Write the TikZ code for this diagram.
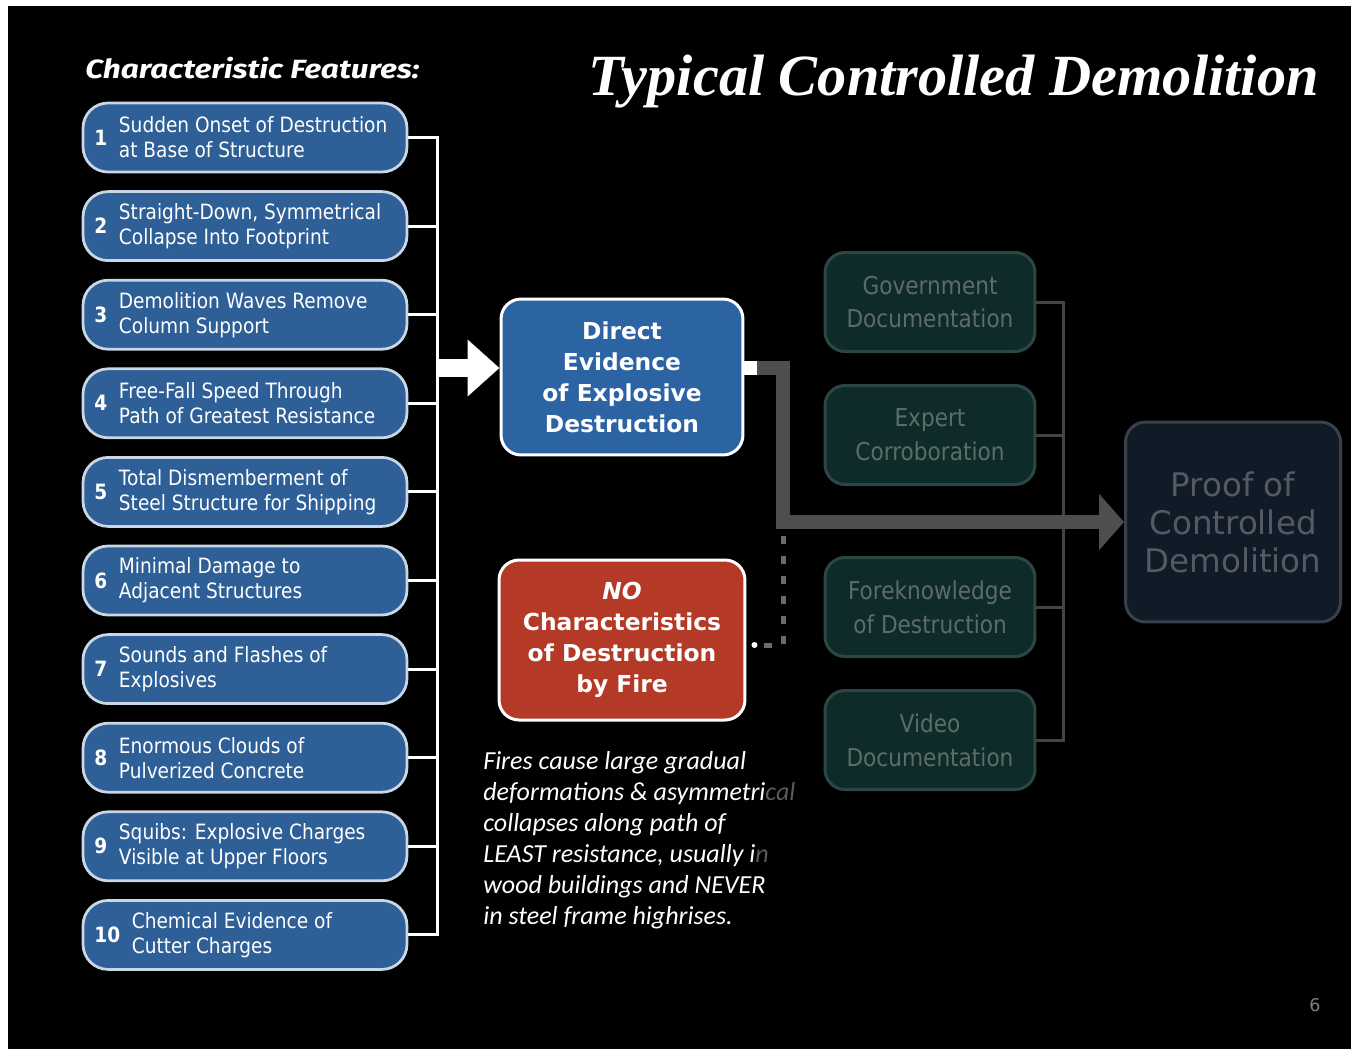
\documentclass[tikz,border=0pt]{standalone}
\usepackage{fontspec}
\usetikzlibrary{arrows.meta,positioning}
\setmainfont{DejaVu Sans}
\newfontfamily\boxfont[FakeStretch=0.88]{DejaVu Sans}
\newfontfamily\notefont{Carlito}
\newfontfamily\headfont[FakeStretch=1.2]{Fira Sans}
\newfontfamily\titlefont{Liberation Serif}

\definecolor{featblue}{HTML}{2E5F97}
\definecolor{featedge}{HTML}{C9D6E6}
\definecolor{directblue}{HTML}{2C63A2}
\definecolor{firered}{HTML}{B43A27}
\definecolor{supportfill}{HTML}{0E2B29}
\definecolor{supportedge}{HTML}{2C4743}
\definecolor{supporttext}{HTML}{5E6C69}
\definecolor{prooffill}{HTML}{111B28}
\definecolor{proofedge}{HTML}{394049}
\definecolor{prooftext}{HTML}{545A62}
\definecolor{pipegray}{HTML}{4E4E4E}
\definecolor{dashgray}{HTML}{6C6C6C}
\definecolor{busgray}{HTML}{444444}
\definecolor{fadegray}{HTML}{5A5A5A}

\tikzset{
  feature/.style={draw=featedge, line width=0.055cm, fill=featblue, rounded corners=0.5cm,
    minimum width=6.48cm, minimum height=1.38cm},
  featnum/.style={anchor=west, inner sep=0pt, text=white, font=\boxfont\bfseries\fontsize{12}{14}\selectfont},
  feattext/.style={inner sep=0pt, text=white, align=left, font=\boxfont\fontsize{12}{14.2}\selectfont},
  evidence/.style={draw=white, line width=0.06cm, rounded corners=0.4cm, align=center, text=white,
    font=\bfseries\fontsize{13.3}{17.6}\selectfont},
  support/.style={draw=supportedge, fill=supportfill, line width=0.06cm, rounded corners=0.4cm,
    minimum width=4.2cm, minimum height=1.98cm, align=center, text=supporttext,
    font=\boxfont\fontsize{14}{19.3}\selectfont},
  proof/.style={draw=proofedge, fill=prooffill, line width=0.06cm, rounded corners=0.4cm,
    minimum width=4.3cm, minimum height=4cm, align=center, text=prooftext,
    font=\fontsize{18.5}{21.6}\selectfont},
  link/.style={white, line width=0.06cm},
  supportlink/.style={busgray, line width=0.06cm},
  bigarrow/.style={white, line width=0.36cm, -{Triangle[width=1.1cm,length=0.64cm]}},
  pipe/.style={pipegray, line width=0.28cm, -{Triangle[width=1.1cm,length=0.5cm]}},
  dashlink/.style={dashgray, line width=0.1cm, dash pattern=on 0.16cm off 0.24cm},
}

\begin{document}
\begin{tikzpicture}[x=0.02cm, y=-0.02cm]
  % page
  \fill[white] (0,0) rectangle (1351,1049);
  \fill[black] (8,6) rectangle (1351,1049);
  \useasboundingbox (0,0) rectangle (1351,1049);

  % headings
  \node[anchor=west, inner sep=0pt, text=white, font=\headfont\bfseries\itshape\fontsize{15}{17}\selectfont]
    (feathead) at (85,68) {Characteristic Features:};
  \node[anchor=base west, inner sep=0pt, text=white, font=\titlefont\bfseries\itshape\fontsize{33.2}{36}\selectfont]
    (title) at (588,95) {Typical Controlled Demolition};

  % the ten features
  \foreach \n/\la/\lb [count=\i from 0] in {
      1/Sudden Onset of Destruction/at Base of Structure,
      2/{Straight-Down, Symmetrical}/Collapse Into Footprint,
      3/Demolition Waves Remove/Column Support,
      4/Free-Fall Speed Through/Path of Greatest Resistance,
      5/Total Dismemberment of/Steel Structure for Shipping,
      6/Minimal Damage to/Adjacent Structures,
      7/Sounds and Flashes of/Explosives,
      8/Enormous Clouds of/Pulverized Concrete,
      9/Squibs: Explosive Charges/Visible at Upper Floors,
      10/Chemical Evidence of/Cutter Charges}{
    \node[feature] (f\n) at (245,{137.5+88.6*\i}) {};
    \node[featnum] (fn\n) at (94,{137.5+88.6*\i}) {\n};
    \node[feattext, right=0.22cm of fn\n] (ft\n) {\la\\\lb};
  }

  % bus into the evidence box
  \coordinate (bus) at (437,368);
  \draw[link] (f1.east) -| (f10.east -| bus) -- (f10.east);
  \foreach \n in {2,...,9}
    \draw[link] (f\n.east) -- (f\n.east -| bus);

  \node[evidence, fill=directblue, minimum width=4.84cm, minimum height=3.12cm]
    (direct) at (622,377) {Direct\\Evidence\\of Explosive\\Destruction};
  \draw[bigarrow] (bus) -- (direct.west |- bus);

  \node[evidence, fill=firered, minimum width=4.92cm, minimum height=3.2cm]
    (fire) at (622,640) {\textit{NO}\\Characteristics\\of Destruction\\by Fire};

  \node[anchor=north west, inner sep=0pt, align=left, text=white,
    font=\notefont\itshape\fontsize{14.8}{17.6}\selectfont] (note) at (483,751)
    {Fires cause large gradual\\
     deformations \& asymmetri\textcolor{fadegray}{cal}\\
     collapses along path of\\
     LEAST resistance, usually i\textcolor{fadegray}{n}\\
     wood buildings and NEVER\\
     in steel frame highrises.};

  % supporting evidence
  \node[support] (gov) at (930,302) {Government\\Documentation};
  \node[support] (expert) at (930,435) {Expert\\Corroboration};
  \node[support] (fore) at (930,607) {Foreknowledge\\of Destruction};
  \node[support] (video) at (930,740) {Video\\Documentation};
  \coordinate (sbus) at (1063,520);
  \draw[supportlink] (gov.east) -| (video.east -| sbus) -- (video.east);
  \draw[supportlink] (expert.east) -- (expert.east -| sbus);
  \draw[supportlink] (fore.east) -- (fore.east -| sbus);

  \node[proof] (proof) at (1233,522) {Proof of\\Controlled\\Demolition};

  % evidence pipe to the proof
  \coordinate (hop) at (757,368);
  \coordinate (tap) at (783,645);
  \draw[dashlink] ([xshift=0.36cm]fire.east |- tap) -- (tap) -- (783,527);
  \fill[white] ([xshift=0.16cm]fire.east |- tap) circle (0.06cm);
  \draw[white, line width=0.28cm] (direct.east |- hop) -- (hop);
  \draw[pipe] (hop) -- (783,368) |- (proof.west);

  \node[text=gray, font=\fontsize{10}{12}\selectfont] (page) at (1315,1005) {6};
\end{tikzpicture}
\end{document}
